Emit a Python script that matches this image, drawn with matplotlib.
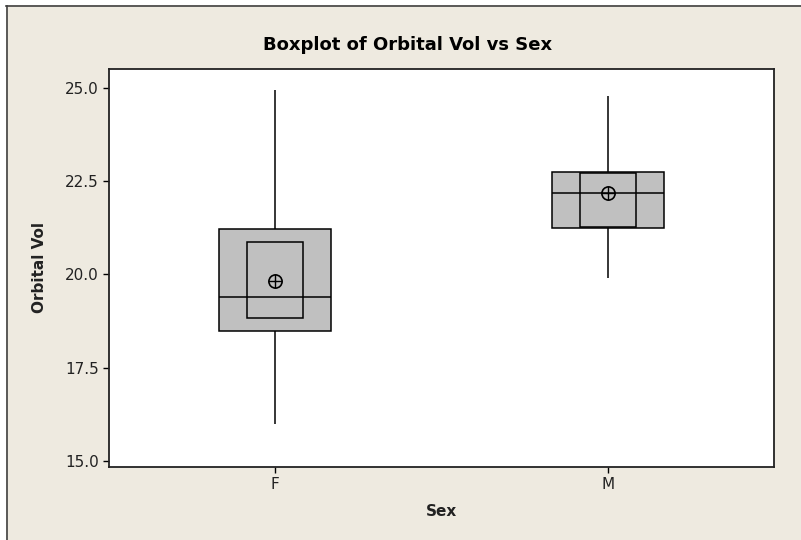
import matplotlib
matplotlib.use("Agg")
import matplotlib.pyplot as plt
from matplotlib.lines import Line2D
from matplotlib.patches import Rectangle

# ---- data ----
categories = ["F", "M"]
whisker_low = [15.99, 19.90]
q1 = [18.48, 21.25]
median = [19.39, 22.17]
q3 = [21.21, 22.75]
whisker_high = [24.93, 24.77]
ci_low = [18.82, 21.28]
ci_high = [20.87, 22.71]
mean = [19.82, 22.18]
yticks = [15.0, 17.5, 20.0, 22.5, 25.0]

BG = "#EEEAE0"
BOX = "#C0C0C0"

fig = plt.figure(figsize=(8.01, 5.40), dpi=100, facecolor=BG)
ax = fig.add_axes([109 / 801, 1 - 467 / 540, (774 - 109) / 801, (467 - 69) / 540])
ax.set_facecolor("white")

pos = list(range(1, len(categories) + 1))
box_w = 0.336
ci_w = 0.168

# whiskers
ax.vlines(pos, whisker_low, q1, color="black", lw=1.1, zorder=1)
ax.vlines(pos, q3, whisker_high, color="black", lw=1.1, zorder=1)
# outer IQR box
ax.bar(pos, [b - a for a, b in zip(q1, q3)], bottom=q1, width=box_w,
       color=BOX, edgecolor="black", linewidth=1.1, zorder=2)
# median CI box
ax.bar(pos, [b - a for a, b in zip(ci_low, ci_high)], bottom=ci_low, width=ci_w,
       color="none", edgecolor="black", linewidth=1.1, zorder=3)
# median line
ax.hlines(median, [p - box_w / 2 for p in pos], [p + box_w / 2 for p in pos],
          color="black", lw=1.1, zorder=4)
# mean symbol (circle with cross)
ax.plot(pos, mean, linestyle="none", marker="o", markersize=9.5,
        markerfacecolor="none", markeredgecolor="black", markeredgewidth=1.2, zorder=5)
ax.plot(pos, mean, linestyle="none", marker="+", markersize=9.5,
        markeredgecolor="black", markeredgewidth=1.0, zorder=5)

ax.set_xlim(0.5, 2.5)
ax.set_ylim(14.84, 25.50)
ax.set_xticks(pos)
ax.set_xticklabels(categories)
ax.set_yticks(yticks)
ax.set_yticklabels([f"{v:.1f}" for v in yticks])
ax.tick_params(axis="both", direction="out", length=4, width=1, pad=3.5,
               labelsize=11, colors="black", labelcolor="#222222")
for s in ax.spines.values():
    s.set_color("#222222")
    s.set_linewidth(1.3)

fig.text(408 / 801, 1 - 45 / 540, "Boxplot of Orbital Vol vs Sex", ha="center", va="center",
         fontsize=13, fontweight="bold", color="black")
fig.text(441.5 / 801, 1 - 511 / 540, "Sex", ha="center", va="center",
         fontsize=11, fontweight="bold", color="#222222")
fig.text(40 / 801, 1 - 268 / 540, "Orbital Vol", ha="center", va="center", rotation=90,
         fontsize=11, fontweight="bold", color="#222222")

# window frame (white margin + dark top and left edges)
fig.add_artist(Rectangle((0, 1 - 5 / 540), 1, 5 / 540, transform=fig.transFigure,
                         facecolor="white", edgecolor="none"))
fig.add_artist(Rectangle((0, 0), 6 / 801, 1, transform=fig.transFigure,
                         facecolor="white", edgecolor="none"))
fig.add_artist(Line2D([6 / 801, 1], [1 - 5.5 / 540, 1 - 5.5 / 540], transform=fig.transFigure,
                      color="#404040", lw=1.2))
fig.add_artist(Line2D([6.5 / 801, 6.5 / 801], [0, 1 - 5.5 / 540], transform=fig.transFigure,
                      color="#404040", lw=1.2))

fig.savefig("out.png", dpi=100, facecolor=BG)
